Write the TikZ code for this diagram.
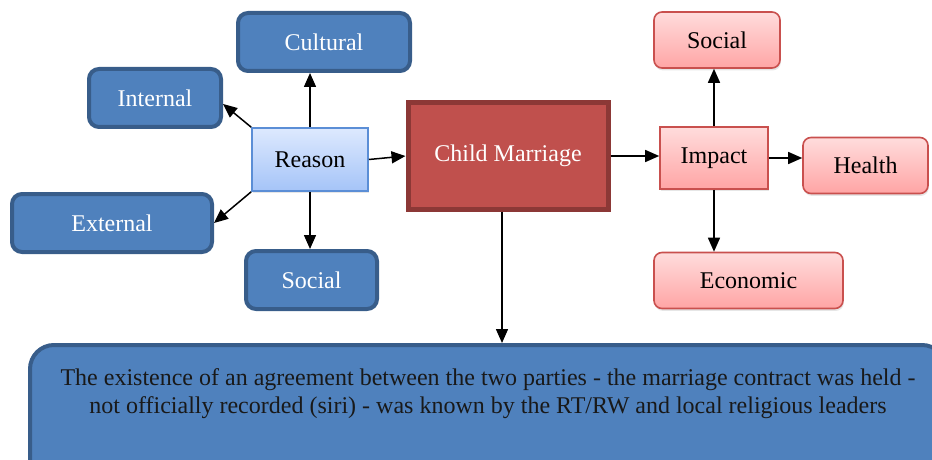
\documentclass[tikz,border=0pt]{standalone}
\usepackage{fontspec}
\setmainfont{Liberation Serif}
\usetikzlibrary{arrows.meta,shadows}
\definecolor{boxblue}{HTML}{4F81BD}
\definecolor{boxblueline}{HTML}{385D8A}
\definecolor{cmred}{HTML}{C0504D}
\definecolor{cmredline}{HTML}{8C3836}
\definecolor{pinktop}{HTML}{FFDCDC}
\definecolor{pinkbottom}{HTML}{FFA5A5}
\definecolor{pinkline}{HTML}{C9504E}
\definecolor{lbluetop}{HTML}{DDE9FE}
\definecolor{lbluebottom}{HTML}{A5C4F8}
\definecolor{lblueline}{HTML}{5B8ED6}

\begin{document}
\begin{tikzpicture}[x=0.5pt, y=-0.5pt,
                    font=\fontsize{12}{14}\selectfont,
                    cause/.style={draw=boxblueline, line width=2pt, fill=boxblue,
                                  text=white, rounded corners=5pt, inner sep=0pt,
                                  minimum height=29pt},
                    effect/.style={draw=pinkline, line width=0.8pt, top color=pinktop,
                                   bottom color=pinkbottom, rounded corners=4pt, inner sep=0pt,
                                   minimum height=28pt,
                                   drop shadow={opacity=0.2, shadow xshift=0.4pt, shadow yshift=-1.2pt}},
                    link/.style={-{Triangle[length=7pt,width=6pt]}, line width=0.75pt}]
  \useasboundingbox (0,0) rectangle (932,460);
  \clip (0,0) rectangle (932,460);

  % reasons
  \node[cause, minimum width=86pt] (cultural) at (324,42) {Cultural};
  \node[cause, minimum width=66pt] (internal) at (155,98) {Internal};
  \node[cause, minimum width=100pt] (external) at (112,223) {External};
  \node[cause, minimum width=65.5pt] (social) at (311.5,280) {Social};
  \node[minimum width=58pt, minimum height=31.5pt, inner sep=0pt, draw=lblueline,
        line width=0.8pt, top color=lbluetop, bottom color=lbluebottom,
        drop shadow={opacity=0.2, shadow xshift=0.4pt, shadow yshift=-1.2pt}] (reason)
        at (310,159.5) {Reason};

  % centre
  \node[minimum width=100pt, minimum height=53pt, inner sep=0pt, fill=cmred,
        draw=cmredline, line width=2.5pt, text=white] (child) at (508,156) {Child Marriage};

  % impacts
  \node[effect, sharp corners, minimum width=54pt, minimum height=31pt] (impact) at (714,158) {Impact};
  \node[effect, minimum width=63pt] (psocial) at (717,40) {Social};
  \node[effect, minimum width=62.5pt] (health) at (865.5,165.5) {Health};
  \node[effect, minimum width=94.5pt] (economic) at (748.5,280.5) {Economic};

  \node[draw=boxblueline, line width=2pt, fill=boxblue, rounded corners=12pt,
        anchor=north, minimum width=458pt, inner ysep=12pt, text depth=70pt,
        align=center, text=black!90] (agreement) at (488,343)
    {The existence of an agreement between the two parties - the marriage contract was held -\\
     not officially recorded (siri) - was known by the RT/RW and local religious leaders};

  \draw[link] (reason.north) -- (reason.north |- cultural.south);
  \draw[link] (reason.north west) -- (internal.-5);
  \draw[link] (reason.south west) -- (external.east);
  \draw[link] (reason.south) -- (reason.south |- social.north);
  \draw[link] (reason.east) -- (child.west);
  \draw[link] (child.east) -- (child.east -| impact.west);
  \draw[link] ([xshift=-3pt]child.south) -- ([xshift=-3pt]child.south |- agreement.north);
  \draw[link] (impact.north) -- (impact.north |- psocial.south);
  \draw[link] (impact.east) -- (impact.east -| health.west);
  \draw[link] (impact.south) -- (impact.south |- economic.north);
\end{tikzpicture}
\end{document}
